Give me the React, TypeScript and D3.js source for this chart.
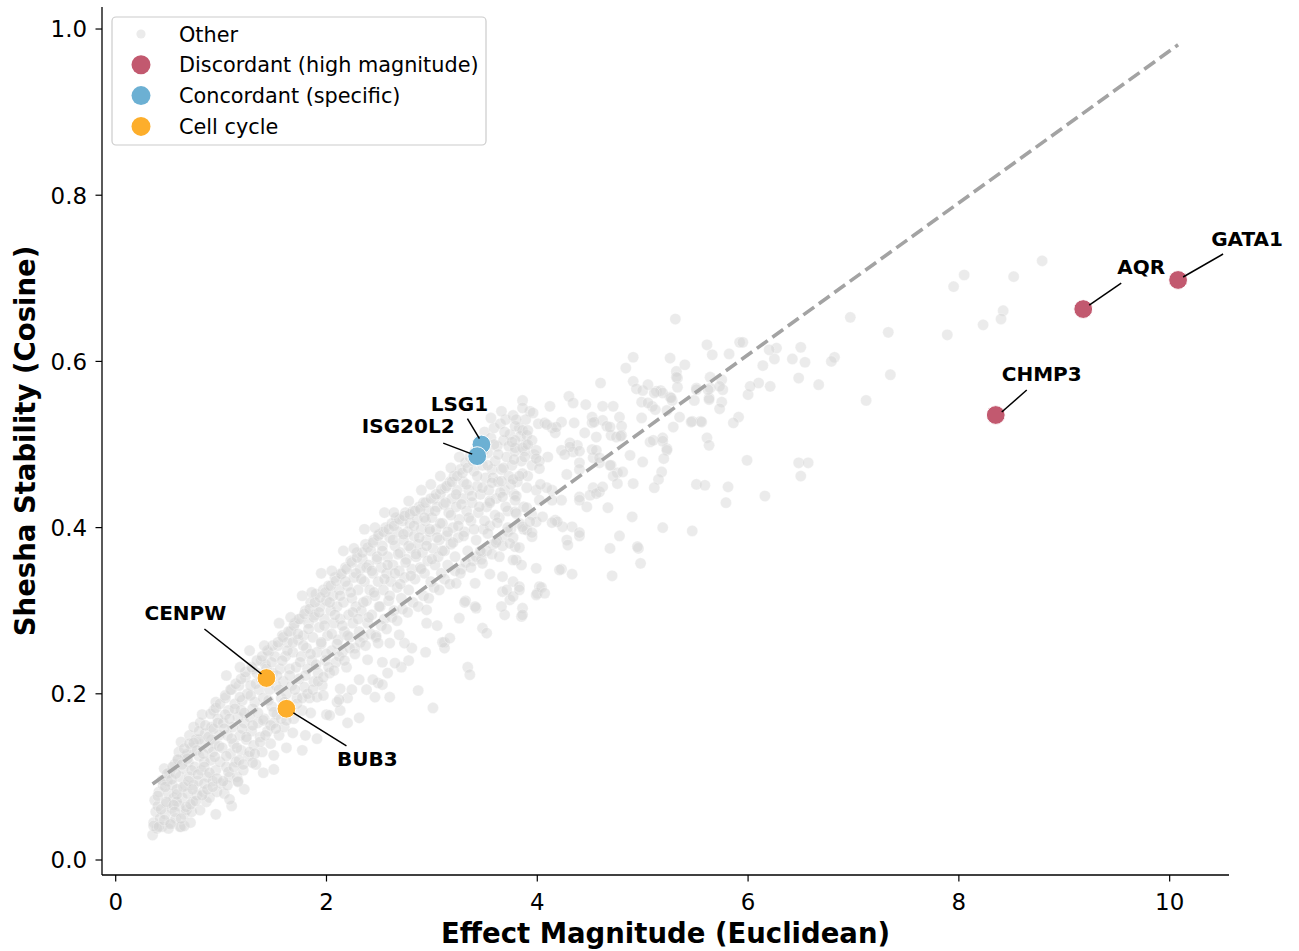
import React from "react";
import * as d3 from "d3";

// ---------- data ----------
const tailPoints: [number, number][] = [
  [0.35,0.030],[0.36,0.045],[0.38,0.058],[0.37,0.072],[0.40,0.065],[0.42,0.050],[0.41,0.082],[0.44,0.040],[0.45,0.090],[0.39,0.038],[0.36,0.041],
  [0.47,0.055],[0.48,0.068],[0.50,0.080],[0.52,0.045],[0.49,0.095],[0.53,0.062],[0.51,0.105],[0.55,0.075],[0.54,0.090],[0.46,0.110],[0.50,0.038],[0.56,0.115],
  [0.57,0.050],[0.58,0.085],[0.60,0.065],[0.61,0.100],[0.62,0.040],[0.59,0.120],[0.63,0.075],[0.64,0.110],[0.60,0.130],[0.66,0.090],[0.65,0.055],[0.62,0.142],[0.58,0.070],[0.66,0.125],[0.61,0.040],[0.65,0.041],
  [0.67,0.060],[0.68,0.080],[0.70,0.100],[0.69,0.118],[0.71,0.045],[0.72,0.135],[0.73,0.070],[0.70,0.150],[0.74,0.090],[0.75,0.112],[0.72,0.058],[0.76,0.145],[0.68,0.128],[0.74,0.160],[0.77,0.078],
  [0.78,0.095],[0.79,0.125],[0.80,0.060],[0.81,0.108],[0.82,0.140],[0.83,0.082],[0.80,0.165],[0.84,0.118],[0.85,0.152],[0.86,0.070],[0.82,0.175],[0.87,0.100],[0.84,0.092],[0.88,0.135],[0.79,0.145],
  [0.89,0.075],[0.90,0.120],[0.91,0.160],[0.92,0.095],[0.93,0.180],[0.94,0.140],[0.95,0.108],[0.96,0.082],[0.92,0.130],[0.97,0.170],[0.98,0.150],[0.95,0.190],[0.99,0.118],[0.91,0.145],[1.00,0.092],
];

const tailPoints2: [number, number][] = [
  [0.41,0.040],[0.43,0.061],[0.40,0.077],[0.44,0.096],[0.46,0.048],[0.48,0.070],[0.47,0.088],[0.49,0.104],
  [0.52,0.043],[0.55,0.066],[0.53,0.097],[0.54,0.112],[0.56,0.058],[0.58,0.079],[0.57,0.104],[0.59,0.121],
  [0.62,0.050],[0.64,0.088],[0.63,0.115],[0.65,0.134],[0.67,0.064],[0.69,0.095],[0.68,0.122],[0.70,0.140],
  [0.71,0.067],[0.73,0.085],[0.72,0.108],[0.74,0.141],[0.76,0.071],[0.78,0.103],[0.77,0.132],[0.79,0.155],
  [0.82,0.078],[0.84,0.112],[0.83,0.128],[0.85,0.162],[0.87,0.085],[0.89,0.105],[0.88,0.148],[0.90,0.176],
  [0.92,0.088],[0.94,0.124],[0.93,0.158],[0.95,0.183],[0.96,0.098],[0.98,0.137],[0.97,0.165],[0.99,0.188],
];

const bandPoints: [number, number][] = [
  [1.01,0.135],[1.02,0.165],[1.03,0.080],[1.04,0.195],[1.05,0.112],[1.06,0.150],[1.07,0.180],[1.08,0.100],[1.09,0.128],[1.10,0.205],[1.06,0.090],[1.11,0.160],[1.12,0.140],[1.04,0.175],[1.13,0.188],
  [1.14,0.118],[1.15,0.100],[1.16,0.172],[1.17,0.210],[1.18,0.150],[1.19,0.132],[1.20,0.192],[1.21,0.108],[1.22,0.165],[1.23,0.220],[1.19,0.180],[1.24,0.145],[1.16,0.095],[1.25,0.200],
  [1.26,0.125],[1.27,0.172],[1.28,0.210],[1.29,0.155],[1.30,0.230],[1.31,0.138],[1.32,0.190],[1.33,0.115],[1.34,0.225],[1.35,0.165],[1.36,0.205],[1.37,0.148],[1.30,0.182],[1.38,0.240],
  [1.39,0.130],[1.40,0.195],[1.41,0.170],[1.42,0.235],[1.44,0.155],[1.45,0.250],[1.46,0.205],[1.47,0.140],[1.48,0.185],[1.49,0.225],[1.50,0.165],[1.51,0.245],[1.52,0.210],
  [1.53,0.175],[1.54,0.258],[1.55,0.150],[1.56,0.230],[1.57,0.195],[1.58,0.270],[1.59,0.215],[1.60,0.160],[1.61,0.245],[1.62,0.200],[1.63,0.262],[1.64,0.182],[1.65,0.230],
  [1.66,0.275],[1.67,0.210],[1.68,0.250],[1.69,0.170],[1.70,0.285],[1.71,0.232],[1.72,0.195],[1.73,0.265],[1.74,0.218],[1.75,0.290],[1.76,0.245],[1.77,0.180],
  [1.78,0.270],[1.79,0.208],[1.80,0.300],[1.81,0.255],[1.82,0.230],[1.83,0.285],[1.84,0.195],[1.85,0.310],[1.86,0.240],[1.87,0.268],[1.88,0.215],
  [1.89,0.295],[1.90,0.320],[1.91,0.250],[1.92,0.225],[1.93,0.280],[1.94,0.305],[1.95,0.260],[1.96,0.210],[1.97,0.325],[1.98,0.290],[1.99,0.240],[2.00,0.312],
  [2.01,0.270],[2.02,0.330],[2.03,0.225],[2.04,0.300],[2.05,0.252],[2.06,0.318],[2.07,0.285],[2.08,0.340],[2.09,0.238],[2.10,0.305],[2.11,0.265],
  [2.12,0.325],[2.13,0.290],[2.14,0.345],[2.15,0.250],[2.16,0.310],[2.17,0.275],[2.18,0.352],[2.19,0.232],[2.20,0.330],[2.21,0.295],[2.22,0.268],
  [2.23,0.360],[2.24,0.315],[2.25,0.285],[2.26,0.340],[2.27,0.255],[2.28,0.305],[2.29,0.370],[2.30,0.325],[2.31,0.275],[2.32,0.350],
  [2.33,0.300],[2.34,0.362],[2.35,0.268],[2.36,0.335],[2.37,0.380],[2.38,0.312],[2.39,0.285],[2.40,0.355],[2.41,0.325],[2.42,0.372],
  [2.43,0.295],[2.44,0.345],[2.45,0.385],[2.46,0.318],[2.47,0.270],[2.48,0.365],[2.49,0.335],[2.50,0.392],[2.51,0.305],[2.52,0.352],
  [2.53,0.378],[2.54,0.325],[2.55,0.290],[2.56,0.400],[2.57,0.345],[2.58,0.365],[2.59,0.312],[2.60,0.388],[2.61,0.335],[2.62,0.405],
  [2.63,0.355],[2.64,0.300],[2.65,0.378],[2.66,0.412],[2.67,0.328],[2.68,0.395],[2.69,0.348],[2.70,0.370],[2.71,0.315],[2.72,0.408],
  [2.73,0.385],[2.74,0.340],[2.75,0.418],[2.76,0.362],[2.77,0.395],[2.78,0.325],[2.79,0.405],[2.80,0.375],[2.81,0.350],
  [2.82,0.420],[2.83,0.390],[2.84,0.338],[2.85,0.365],[2.86,0.410],[2.87,0.380],[2.88,0.425],[2.89,0.352],[2.90,0.398],
  [2.91,0.370],[2.92,0.430],[2.93,0.345],[2.94,0.408],[2.95,0.385],[2.96,0.360],[2.97,0.420],[2.98,0.395],[2.99,0.335],
  [3.00,0.412],[3.01,0.375],[3.02,0.435],[3.03,0.355],[3.04,0.398],[3.05,0.425],[3.06,0.365],[3.07,0.385],[3.08,0.440],[3.09,0.345],
  [3.10,0.405],[3.11,0.428],[3.12,0.372],[3.13,0.448],[3.14,0.390],[3.15,0.355],[3.16,0.418],[3.17,0.455],[3.18,0.380],[3.19,0.435],
  [3.20,0.400],[3.21,0.462],[3.22,0.365],[3.23,0.425],[3.24,0.445],[3.25,0.388],[3.26,0.410],[3.27,0.470],[3.28,0.350],[3.29,0.435],
  [3.30,0.455],[3.31,0.395],[3.32,0.478],[3.33,0.420],[3.34,0.372],[3.35,0.445],[3.36,0.485],[3.37,0.408],[3.38,0.430],[3.39,0.360],
  [3.40,0.468],[3.41,0.492],[3.42,0.385],[3.43,0.450],[3.44,0.418],[3.45,0.505],[3.46,0.440],[3.47,0.370],[3.48,0.475],[3.49,0.398],
  [3.50,0.515],[3.51,0.460],[3.52,0.425],[3.53,0.490],[3.54,0.445],[3.55,0.402],[3.56,0.508],[3.57,0.470],[3.58,0.380],[3.59,0.520],
  [3.60,0.480],[3.61,0.435],[3.62,0.498],[3.63,0.455],[3.64,0.412],[3.65,0.525],[3.66,0.470],[3.67,0.390],[3.68,0.505],[3.69,0.445],
  [3.70,0.530],[3.71,0.485],[3.72,0.420],[3.73,0.462],[3.74,0.512],[3.75,0.398],[3.76,0.475],[3.77,0.535],[3.78,0.440],[3.79,0.492],
  [3.81,0.455],[3.83,0.520],[3.85,0.480],[3.87,0.425],[3.89,0.500],[3.91,0.462],[3.93,0.540],[3.95,0.415],[3.97,0.488],[3.99,0.445],[4.01,0.525],
];

const bandPoints2: [number, number][] = [
  [1.02,0.095],[1.05,0.125],[1.03,0.158],[1.04,0.198],[1.07,0.106],[1.10,0.146],[1.08,0.170],[1.09,0.205],
  [1.12,0.112],[1.15,0.135],[1.13,0.182],[1.14,0.212],[1.17,0.120],[1.20,0.158],[1.18,0.196],[1.19,0.218],
  [1.21,0.115],[1.24,0.148],[1.22,0.177],[1.23,0.226],[1.27,0.130],[1.30,0.162],[1.28,0.198],[1.29,0.232],
  [1.32,0.128],[1.35,0.177],[1.33,0.212],[1.34,0.240],[1.37,0.142],[1.40,0.168],[1.38,0.218],[1.39,0.245],
  [1.42,0.150],[1.45,0.192],[1.43,0.230],[1.44,0.252],[1.47,0.162],[1.50,0.178],[1.48,0.238],[1.49,0.258],
  [1.52,0.158],[1.55,0.205],[1.53,0.222],[1.54,0.262],[1.57,0.170],[1.60,0.190],[1.58,0.240],[1.59,0.268],
  [1.62,0.168],[1.65,0.222],[1.63,0.252],[1.64,0.275],[1.67,0.180],[1.70,0.205],[1.68,0.262],[1.69,0.282],
  [1.72,0.188],[1.75,0.238],[1.73,0.272],[1.74,0.290],[1.77,0.195],[1.80,0.222],[1.78,0.258],[1.79,0.296],
  [1.82,0.200],[1.85,0.248],[1.83,0.278],[1.84,0.302],[1.87,0.205],[1.90,0.235],[1.88,0.292],[1.89,0.310],
  [1.92,0.215],[1.95,0.262],[1.93,0.298],[1.94,0.316],[1.97,0.220],[2.00,0.248],[1.98,0.282],[1.99,0.322],
  [2.02,0.232],[2.05,0.272],[2.03,0.310],[2.04,0.330],[2.07,0.228],[2.10,0.260],[2.08,0.295],[2.09,0.336],
  [2.12,0.245],[2.15,0.282],[2.13,0.318],[2.14,0.344],[2.17,0.240],[2.20,0.270],[2.18,0.335],[2.19,0.350],
  [2.22,0.255],[2.25,0.298],[2.23,0.322],[2.24,0.358],[2.27,0.248],[2.30,0.290],[2.28,0.345],[2.29,0.364],
  [2.32,0.262],[2.35,0.310],[2.33,0.338],[2.34,0.370],[2.37,0.258],[2.40,0.292],[2.38,0.352],[2.39,0.376],
  [2.42,0.272],[2.45,0.322],[2.43,0.348],[2.44,0.382],[2.47,0.268],[2.50,0.305],[2.48,0.362],[2.49,0.390],
  [2.52,0.282],[2.55,0.338],[2.53,0.372],[2.54,0.395],[2.57,0.278],[2.60,0.318],[2.58,0.355],[2.59,0.398],
  [2.62,0.292],[2.65,0.345],[2.63,0.385],[2.64,0.402],[2.67,0.288],[2.70,0.332],[2.68,0.368],[2.69,0.410],
  [2.72,0.302],[2.75,0.358],[2.73,0.392],[2.74,0.414],[2.77,0.298],[2.80,0.342],[2.78,0.378],[2.79,0.416],
  [2.82,0.310],[2.85,0.368],[2.83,0.402],[2.84,0.420],[2.87,0.305],[2.90,0.350],[2.88,0.388],[2.89,0.422],
  [2.92,0.318],[2.95,0.378],[2.93,0.412],[2.94,0.430],[2.97,0.315],[3.00,0.362],[2.98,0.398],[2.99,0.435],
  [3.02,0.328],[3.05,0.388],[3.03,0.420],[3.04,0.440],[3.07,0.325],[3.10,0.372],[3.08,0.405],[3.09,0.446],
  [3.12,0.338],[3.15,0.395],[3.13,0.430],[3.14,0.450],[3.17,0.332],[3.20,0.382],[3.18,0.415],[3.19,0.455],
  [3.22,0.348],[3.25,0.402],[3.23,0.440],[3.24,0.462],[3.27,0.345],[3.30,0.390],[3.28,0.428],[3.29,0.466],
  [3.32,0.358],[3.35,0.412],[3.33,0.452],[3.34,0.472],[3.37,0.352],[3.40,0.398],[3.38,0.438],[3.39,0.480],
  [3.42,0.365],[3.45,0.425],[3.43,0.462],[3.47,0.362],[3.50,0.408],[3.48,0.448],[3.49,0.492],
  [3.52,0.372],[3.55,0.432],[3.53,0.475],[3.57,0.368],[3.60,0.415],[3.58,0.460],[3.59,0.500],
  [3.62,0.385],[3.65,0.442],[3.63,0.488],[3.67,0.378],[3.70,0.425],[3.68,0.472],[3.69,0.515],
  [3.72,0.395],[3.75,0.452],[3.73,0.498],[3.77,0.388],[3.80,0.438],[3.78,0.482],[3.79,0.522],
  [3.83,0.405],[3.86,0.465],[3.84,0.510],[3.87,0.398],[3.90,0.448],[3.88,0.492],[3.89,0.530],
];

const edgePoints: [number, number][] = [
  [1.05,0.222],[1.18,0.232],[1.27,0.252],[1.41,0.258],[1.55,0.285],[1.66,0.292],[1.77,0.318],[1.86,0.322],[1.95,0.345],[2.05,0.348],
  [2.16,0.372],[2.26,0.375],[2.36,0.398],[2.46,0.400],[2.55,0.418],[2.64,0.418],[2.78,0.432],[2.90,0.445],[2.99,0.452],[3.08,0.462],
  [3.18,0.472],[3.26,0.485],[3.56,0.532],[3.66,0.540],[3.86,0.553],[4.12,0.546],[4.30,0.558],
  [1.22,0.085],[1.40,0.105],[1.62,0.135],[1.80,0.150],[2.00,0.175],[2.20,0.195],[2.38,0.205],[2.58,0.225],[2.78,0.240],[0.95,0.055],[1.10,0.065],
];

const midPoints: [number, number][] = [
  [4.91,0.605],[4.84,0.592],[4.60,0.574],[4.91,0.576],[4.94,0.567],[5.13,0.564],[5.17,0.565],[5.32,0.588],[5.33,0.580],[5.26,0.557],
  [4.34,0.550],[4.46,0.548],[4.62,0.546],[4.72,0.546],[4.78,0.533],[4.99,0.551],[5.09,0.546],[5.23,0.541],[4.99,0.532],
  [4.52,0.533],[4.52,0.526],[4.62,0.529],[4.66,0.522],[4.70,0.511],[4.80,0.522],[4.80,0.511],[4.23,0.527],[4.35,0.526],[4.07,0.526],
  [4.14,0.520],[4.17,0.514],[4.45,0.514],[4.56,0.509],[4.38,0.499],[3.86,0.517],[3.90,0.511],[3.95,0.505],[3.79,0.505],[3.79,0.496],
  [3.99,0.493],[4.10,0.485],[4.23,0.493],[4.31,0.502],[4.34,0.491],[4.40,0.478],[4.53,0.484],[4.59,0.478],[4.70,0.475],[4.76,0.466],
  [4.88,0.487],[4.53,0.448],[4.59,0.443],[4.40,0.437],[4.67,0.424],[4.47,0.425],[4.23,0.433],[4.14,0.445],[4.02,0.433],[3.90,0.424],
  [3.79,0.419],[4.33,0.401],[4.24,0.401],[4.17,0.409],[4.28,0.385],[4.29,0.379],[4.40,0.390],[3.99,0.407],[4.05,0.413],[3.90,0.397],
  [3.95,0.389],[3.79,0.377],[3.80,0.361],[3.85,0.355],[3.99,0.351],[4.21,0.349],[4.33,0.344],[4.69,0.375],[4.78,0.390],[4.90,0.413],
  [4.96,0.375],[4.98,0.357],[4.71,0.342],[5.19,0.400],[5.47,0.396],[3.66,0.305],[3.77,0.317],[3.83,0.325],[3.86,0.303],[3.86,0.295],
  [3.99,0.319],[4.04,0.328],[4.07,0.321],[3.48,0.279],[3.52,0.273],[3.26,0.291],[3.31,0.310],[3.41,0.305],[3.17,0.267],
  [5.00,0.565],[5.28,0.553],[5.51,0.568],[5.64,0.581],[5.64,0.568],[5.75,0.578],[5.76,0.566],[5.63,0.556],[5.49,0.553],[5.47,0.528],
  [5.55,0.528],[4.69,0.521],[4.54,0.527],[4.75,0.509],[4.79,0.510],[4.69,0.475],[4.72,0.462],[4.76,0.453],[4.81,0.467],[4.91,0.453],
  [5.07,0.503],[5.19,0.508],[5.23,0.495],[4.31,0.497],[4.40,0.492],[4.52,0.494],[4.56,0.493],[4.59,0.484],[4.28,0.464],[4.40,0.470],
  [4.40,0.433],[4.50,0.439],[4.56,0.441],[4.62,0.449],[4.14,0.433],[4.09,0.448],[4.03,0.452],[3.95,0.475],[4.02,0.480],[4.26,0.488],
  [4.18,0.521],[4.09,0.524],[3.96,0.538],[3.86,0.544],[3.80,0.530],[3.91,0.517],[3.76,0.503],[3.86,0.496],[3.91,0.500],[3.88,0.485],
  [3.99,0.483],[4.02,0.471],[3.57,0.454],[3.66,0.456],[3.77,0.458],[3.83,0.462],[3.67,0.437],[3.79,0.433],[3.55,0.430],[3.80,0.417],
  [3.62,0.406],[3.72,0.400],[3.86,0.401],[3.93,0.407],[3.95,0.394],[4.19,0.407],[4.14,0.406],[4.40,0.394],[4.95,0.377],[3.48,0.357],
  [3.64,0.365],[3.61,0.382],[3.74,0.381],[3.83,0.376],[3.53,0.393],[3.46,0.372],[3.77,0.361],[3.55,0.344],[3.67,0.341],
];

const lowPoints: [number, number][] = [
  [3.34,0.232],[3.36,0.223],[3.12,0.262],[3.12,0.255],[2.94,0.250],[2.87,0.204],[3.01,0.183],[2.60,0.196],[2.46,0.196],[2.49,0.213],
  [2.53,0.211],[2.31,0.171],[2.20,0.165],[2.13,0.180],[2.10,0.190],[2.71,0.232],[2.65,0.237],[2.81,0.255],[2.74,0.261],[2.95,0.285],
  [3.05,0.282],[3.42,0.303],[3.32,0.312],[3.69,0.295],[3.85,0.293],[3.74,0.313],[3.67,0.323],[3.77,0.335],[3.83,0.329],[4.02,0.329],
  [4.23,0.350],[3.41,0.333],[3.23,0.333],[2.95,0.301],[2.69,0.271],[2.60,0.261],[2.49,0.261],[2.39,0.241],[2.53,0.238],[2.44,0.217],
  [2.31,0.217],[2.24,0.205],[2.13,0.206],[2.03,0.174],[1.91,0.196],[1.97,0.198],[2.12,0.193],[1.77,0.132],[1.91,0.146],[1.68,0.153],
  [1.50,0.126],[1.50,0.109],[1.30,0.117],[1.16,0.094],[1.08,0.073],[1.85,0.177],[3.10,0.262],[3.71,0.325],[4.00,0.321],
];

const farPoints: [number, number][] = [
  [8.79,0.721],[8.05,0.704],[7.95,0.690],[8.52,0.702],[8.42,0.661],[8.40,0.651],[8.23,0.644],[7.89,0.632],[7.35,0.584],[7.33,0.635],
  [6.97,0.653],[7.12,0.553],[6.67,0.572],[6.48,0.580],[6.82,0.605],[6.79,0.600],[6.50,0.617],[6.54,0.599],[6.42,0.603],[6.27,0.616],
  [6.25,0.603],[6.20,0.614],[6.21,0.570],[6.10,0.574],[6.14,0.595],[6.00,0.560],[6.02,0.570],[5.92,0.623],[5.95,0.623],[5.82,0.609],
  [5.66,0.608],[5.61,0.620],[5.73,0.570],[5.75,0.551],[5.73,0.543],[5.63,0.554],[5.91,0.533],[5.86,0.526],[5.31,0.651],[5.26,0.604],
  [5.40,0.596],[5.32,0.581],[5.33,0.569],[5.19,0.562],[5.11,0.562],[5.05,0.572],[5.05,0.550],[5.12,0.542],[5.27,0.556],[5.51,0.566],
  [5.62,0.566],[5.46,0.527],[5.56,0.527],[5.35,0.533],[5.29,0.521],[5.10,0.505],[5.19,0.504],[5.23,0.493],[5.20,0.483],[5.00,0.479],
  [5.18,0.467],[5.15,0.458],[5.11,0.448],[5.61,0.508],[5.63,0.499],[5.51,0.452],[5.59,0.451],[5.81,0.449],[5.79,0.430],[5.99,0.481],
  [6.16,0.438],[6.48,0.478],[6.57,0.478],[6.50,0.462],
];

const geneNames = ["GATA1", "AQR", "CHMP3", "LSG1", "ISG20L2", "CENPW", "BUB3"];
const geneX = [10.08, 9.18, 8.35, 3.47, 3.43, 1.43, 1.62];
const geneY = [0.698, 0.663, 0.5355, 0.5, 0.486, 0.219, 0.182];
const geneGroup = [
  "Discordant (high magnitude)", "Discordant (high magnitude)", "Discordant (high magnitude)",
  "Concordant (specific)", "Concordant (specific)", "Cell cycle", "Cell cycle",
];

const groupNames = ["Other", "Discordant (high magnitude)", "Concordant (specific)", "Cell cycle"];

const trendX = [0.35, 10.08];
const trendY = [0.0915, 0.981];

const xTicks = [0, 2, 4, 6, 8, 10];
const yTicks = [0.0, 0.2, 0.4, 0.6, 0.8, 1.0];

// ---------- styles ----------
const groupColor: Record<string, string> = {
  "Other": "#d3d3d3",
  "Discordant (high magnitude)": "#c2596f",
  "Concordant (specific)": "#6cb0d3",
  "Cell cycle": "#fdae2b",
};

// label placement (pixel offsets from the point): text centre, line start, line end
const labelLayout: Record<string, { tx: number; ty: number; l1: [number, number]; l2: [number, number] }> = {
  GATA1: { tx: 69, ty: -41, l1: [45, -26], l2: [5, -3] },
  AQR: { tx: 58, ty: -42, l1: [38, -26], l2: [6, -4] },
  CHMP3: { tx: 46, ty: -41, l1: [31, -25], l2: [6, -3] },
  LSG1: { tx: -22, ty: -41, l1: [-14, -26], l2: [-2, -6] },
  ISG20L2: { tx: -69, ty: -30, l1: [-34, -13], l2: [-5, -2] },
  CENPW: { tx: -81, ty: -65, l1: [-62, -49], l2: [-5, -4] },
  BUB3: { tx: 81, ty: 50, l1: [60, 37], l2: [7, 4] },
};

const FONT = "'DejaVu Sans', 'Liberation Sans', sans-serif";

export default function App() {
  const W = 1299, H = 951;
  const left = 102, right = 1229, top = 7, bottom = 875;
  const x = d3.scaleLinear().domain([-0.13, 10.563]).range([left, right]);
  const y = d3.scaleLinear().domain([-0.01805, 1.0265]).range([bottom, top]);

  const others = [...tailPoints, ...tailPoints2, ...bandPoints, ...bandPoints2, ...edgePoints, ...lowPoints, ...midPoints, ...farPoints];
  const line = d3.line<number>().x((_, i) => x(trendX[i])).y((_, i) => y(trendY[i]));

  const genes = geneNames.map((g, i) => ({ name: g, x: geneX[i], y: geneY[i], group: geneGroup[i] }));

  const tickFont = 22.9;
  const legendFont = 20.8;
  const yFmt = d3.format(".1f");

  return (
    <svg width={W} height={H} style={{ position: "absolute", left: 0, top: 0, background: "#fff" }} fontFamily={FONT}>
      <rect x={0} y={0} width={W} height={H} fill="#fff" />
      {/* grey points */}
      <g>
        {others.map((d, i) => (
          <circle key={i} cx={x(d[0])} cy={y(d[1])} r={5.6} fill={groupColor["Other"]} fillOpacity={0.45} stroke="#fff" strokeOpacity={0.5} strokeWidth={0.6} />
        ))}
      </g>
      {/* trend line */}
      <path d={line(trendX) || ""} fill="none" stroke="#a3a3a3" strokeWidth={3.6} strokeDasharray="13.3,5.8" />
      {/* highlighted genes */}
      <g>
        {genes.map((g) => (
          <circle key={g.name} cx={x(g.x)} cy={y(g.y)} r={9.4} fill={groupColor[g.group]} stroke="#fff" strokeWidth={1} />
        ))}
      </g>
      {/* annotations */}
      <g>
        {genes.map((g) => {
          const px = x(g.x), py = y(g.y);
          const L = labelLayout[g.name];
          return (
            <g key={g.name}>
              <line x1={px + L.l1[0]} y1={py + L.l1[1]} x2={px + L.l2[0]} y2={py + L.l2[1]} stroke="#000" strokeWidth={1.5} />
              <text x={px + L.tx} y={py + L.ty + 7.3} textAnchor="middle" fontSize={20} fontWeight="bold" fill="#000">{g.name}</text>
            </g>
          );
        })}
      </g>
      {/* axes */}
      <line x1={left} y1={top} x2={left} y2={bottom} stroke="#000" strokeWidth={1.3} />
      <line x1={left} y1={bottom} x2={right} y2={bottom} stroke="#000" strokeWidth={1.3} />
      {xTicks.map((t) => (
        <g key={"x" + t}>
          <line x1={x(t)} x2={x(t)} y1={bottom} y2={bottom + 6.5} stroke="#000" strokeWidth={1.2} />
          <text x={x(t)} y={bottom + 34.5} textAnchor="middle" fontSize={tickFont} fill="#000">{t}</text>
        </g>
      ))}
      {yTicks.map((t) => (
        <g key={"y" + t}>
          <line x1={left - 6.5} x2={left} y1={y(t)} y2={y(t)} stroke="#000" strokeWidth={1.2} />
          <text x={left - 15} y={y(t) + 8.3} textAnchor="end" fontSize={tickFont} fill="#000">{yFmt(t)}</text>
        </g>
      ))}
      <text x={(left + right) / 2} y={943} textAnchor="middle" fontSize={27.5} fontWeight="bold" fill="#000">
        Effect Magnitude (Euclidean)
      </text>
      <text transform={`translate(35, ${(top + bottom) / 2}) rotate(-90)`} textAnchor="middle" fontSize={27.5} fontWeight="bold" fill="#000">
        Shesha Stability (Cosine)
      </text>
      {/* legend */}
      <g>
        <rect x={112} y={17} width={374} height={128} rx={4} ry={4} fill="#fff" fillOpacity={0.8} stroke="#cccccc" strokeWidth={1.2} />
        {groupNames.map((gname, i) => {
          const cy = 34 + i * 30.8;
          return (
            <g key={gname}>
              {i === 0 ? (
                <circle cx={141} cy={cy} r={4.6} fill="#ebebeb" />
              ) : (
                <circle cx={141} cy={cy} r={9.5} fill={groupColor[gname]} />
              )}
              <text x={179} y={cy + 7.5} fontSize={legendFont} fill="#000">{gname}</text>
            </g>
          );
        })}
      </g>
    </svg>
  );
}
